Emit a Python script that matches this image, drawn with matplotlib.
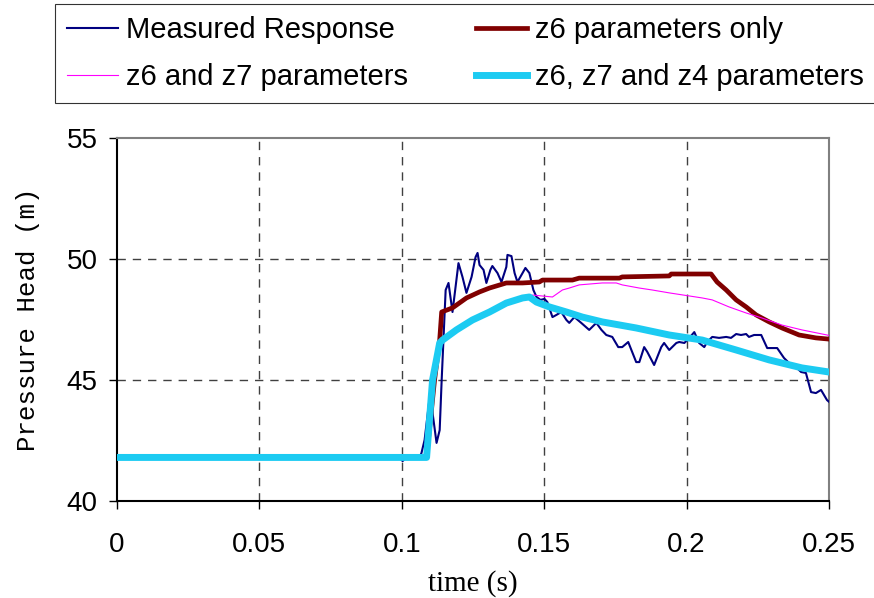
import matplotlib
matplotlib.use("Agg")
import matplotlib.pyplot as plt

# ---- data -------------------------------------------------------------
meas_t = [0.0, 0.099, 0.1003, 0.1015, 0.1062, 0.1069, 0.1080, 0.1101, 0.1108, 0.1122,
          0.1133, 0.1140, 0.1154, 0.1164, 0.1178, 0.1199, 0.1213, 0.1227, 0.1245, 0.1259,
          0.1266, 0.1273, 0.1287, 0.1297, 0.1311, 0.1318, 0.1336, 0.1350, 0.1367, 0.1371,
          0.1385, 0.1396, 0.1406, 0.1424, 0.1434, 0.1448, 0.1462, 0.1473, 0.1487, 0.1501,
          0.1511, 0.1529, 0.1543, 0.1560, 0.1578, 0.1588, 0.1606, 0.1630, 0.1658, 0.1683,
          0.1701, 0.1718, 0.1739, 0.1760, 0.1774, 0.1795, 0.1823, 0.1834, 0.1851, 0.1862,
          0.1886, 0.1911, 0.1921, 0.1939, 0.1964, 0.1974, 0.1992, 0.2006, 0.2027, 0.2044,
          0.2062, 0.2072, 0.2090, 0.2114, 0.2139, 0.2156, 0.2174, 0.2191, 0.2209, 0.2219,
          0.2237, 0.2262, 0.2283, 0.2318, 0.2342, 0.2360, 0.2384, 0.2402, 0.2419, 0.2437,
          0.2454, 0.2472, 0.2493, 0.2500]
meas_h = [41.8, 41.8, 41.65, 41.8, 41.8, 41.98, 42.52, 44.59, 43.64, 42.40,
          42.93, 45.00, 48.72, 49.01, 47.81, 49.83, 49.26, 48.60, 49.26, 50.08,
          50.25, 49.75, 49.55, 49.01, 49.55, 49.71, 49.42, 49.05, 49.67, 50.17,
          50.12, 49.42, 49.05, 49.42, 49.63, 49.42, 48.72, 48.43, 48.31, 48.35,
          48.22, 47.60, 47.69, 47.81, 47.48, 47.36, 47.60, 47.36, 47.07, 47.36,
          47.07, 46.86, 46.78, 46.36, 46.36, 46.57, 45.74, 45.74, 46.36, 46.16,
          45.62, 46.36, 46.53, 46.24, 46.53, 46.57, 46.53, 46.69, 46.98, 46.53,
          46.36, 46.57, 46.78, 46.74, 46.78, 46.74, 46.90, 46.86, 46.90, 46.78,
          46.86, 46.86, 46.32, 46.32, 45.91, 45.70, 45.54, 45.33, 45.29, 44.50,
          44.46, 44.59, 44.17, 44.10]

z6_t = [0.0, 0.1087, 0.1115, 0.1133, 0.1140, 0.1178, 0.1227, 0.1273, 0.1308, 0.1367,
        0.1424, 0.1483, 0.1494, 0.1599, 0.1623, 0.1764, 0.1774, 0.1939, 0.1946, 0.2086,
        0.2107, 0.2139, 0.2174, 0.2209, 0.2244, 0.2290, 0.2335, 0.2395, 0.2454, 0.2500]
z6_h = [41.8, 41.8, 45.0, 46.65, 47.81, 47.98, 48.39, 48.64, 48.80, 49.01,
        49.01, 49.05, 49.13, 49.13, 49.21, 49.21, 49.26, 49.30, 49.38, 49.38,
        49.05, 48.72, 48.31, 48.02, 47.69, 47.40, 47.15, 46.86, 46.74, 46.69]

z67_t = [0.0, 0.1087, 0.1108, 0.1133, 0.1143, 0.1192, 0.1248, 0.1308, 0.1367, 0.1424,
         0.1448, 0.1459, 0.1529, 0.1564, 0.1588, 0.1623, 0.1704, 0.1753, 0.1774, 0.1834,
         0.1879, 0.1939, 0.2055, 0.2090, 0.2149, 0.2209, 0.2265, 0.2335, 0.2405, 0.2493,
         0.2500]
z67_h = [41.8, 41.8, 45.0, 46.53, 46.65, 47.07, 47.48, 47.81, 48.18, 48.39,
         48.43, 48.51, 48.43, 48.72, 48.80, 48.93, 49.01, 49.01, 48.93, 48.80,
         48.72, 48.60, 48.39, 48.31, 48.02, 47.77, 47.56, 47.27, 47.07, 46.86,
         46.84]

z674_t = [0.0, 0.1087, 0.1108, 0.1133, 0.1143, 0.1192, 0.1248, 0.1308, 0.1367, 0.1424,
          0.1448, 0.1473, 0.1518, 0.1578, 0.1634, 0.1704, 0.1823, 0.1939, 0.2055, 0.2174,
          0.2290, 0.2405, 0.2500]
z674_h = [41.8, 41.8, 45.0, 46.53, 46.65, 47.07, 47.48, 47.81, 48.18, 48.39,
          48.43, 48.22, 48.02, 47.81, 47.60, 47.40, 47.15, 46.86, 46.65, 46.24,
          45.83, 45.50, 45.33]

labels = ["Measured Response", "z6 parameters only",
          "z6 and z7 parameters", "z6, z7 and z4 parameters"]
x_ticks = [0, 0.05, 0.1, 0.15, 0.2, 0.25]
x_tick_labels = ["0", "0.05", "0.1", "0.15", "0.2", "0.25"]
y_ticks = [40, 45, 50, 55]

# ---- figure -----------------------------------------------------------
plt.rcParams['font.family'] = ['Liberation Sans', 'DejaVu Sans']
fig = plt.figure(figsize=(8.74, 5.98), dpi=100)
ax = fig.add_axes([117 / 874, 1 - 501 / 598, (829 - 117) / 874, (501 - 138) / 598])

l1, = ax.plot(meas_t, meas_h, color='#000080', lw=1.5, zorder=3)
l2, = ax.plot(z6_t, z6_h, color='#800000', lw=3.4, zorder=4)
l3, = ax.plot(z67_t, z67_h, color='#FF00FF', lw=0.8, zorder=4)
l4, = ax.plot(z674_t, z674_h, color='#1CCBF2', lw=5.0, zorder=5)

ax.set_xlim(0, 0.25)
ax.set_ylim(40, 55)
ax.set_xticks(x_ticks)
ax.set_xticklabels(x_tick_labels)
ax.set_yticks(y_ticks)
ax.tick_params(axis='both', labelsize=20, direction='out', length=6, width=1, color='black')
ax.tick_params(axis='x', pad=16)
ax.tick_params(axis='y', pad=8)

for v in [0.05, 0.1, 0.15, 0.2]:
    ax.axvline(v, color='#404040', lw=1.0, ls=(0, (6, 5)), zorder=1)
for v in [45, 50]:
    ax.axhline(v, color='#404040', lw=1.0, ls=(0, (6, 5)), zorder=1)

ax.spines['left'].set_color('black')
ax.spines['bottom'].set_color('black')
ax.spines['top'].set_color('#808080')
ax.spines['right'].set_color('#808080')
for s in ax.spines.values():
    s.set_linewidth(1.5)

ax.set_ylabel("Pressure Head (m)", family=['Liberation Mono', 'DejaVu Sans'],
              fontsize=18.5, labelpad=19)
ax.set_xlabel("time (s)", family=['Liberation Serif', 'DejaVu Serif'],
              fontsize=21, labelpad=9)

# row-wise legend order: matplotlib fills column by column
leg = fig.legend([l1, l3, l2, l4], [labels[0], labels[2], labels[1], labels[3]],
                 ncol=2, loc='upper left',
                 bbox_to_anchor=(55 / 874, 1 - 4 / 598),
                 fontsize=21, frameon=True, fancybox=False,
                 edgecolor='black', handlelength=1.75, handletextpad=0.28,
                 borderaxespad=0, columnspacing=2.3, labelspacing=0.64,
                 borderpad=0.42)
leg.get_frame().set_linewidth(0.8)

fig.savefig("out.png", dpi=100)
